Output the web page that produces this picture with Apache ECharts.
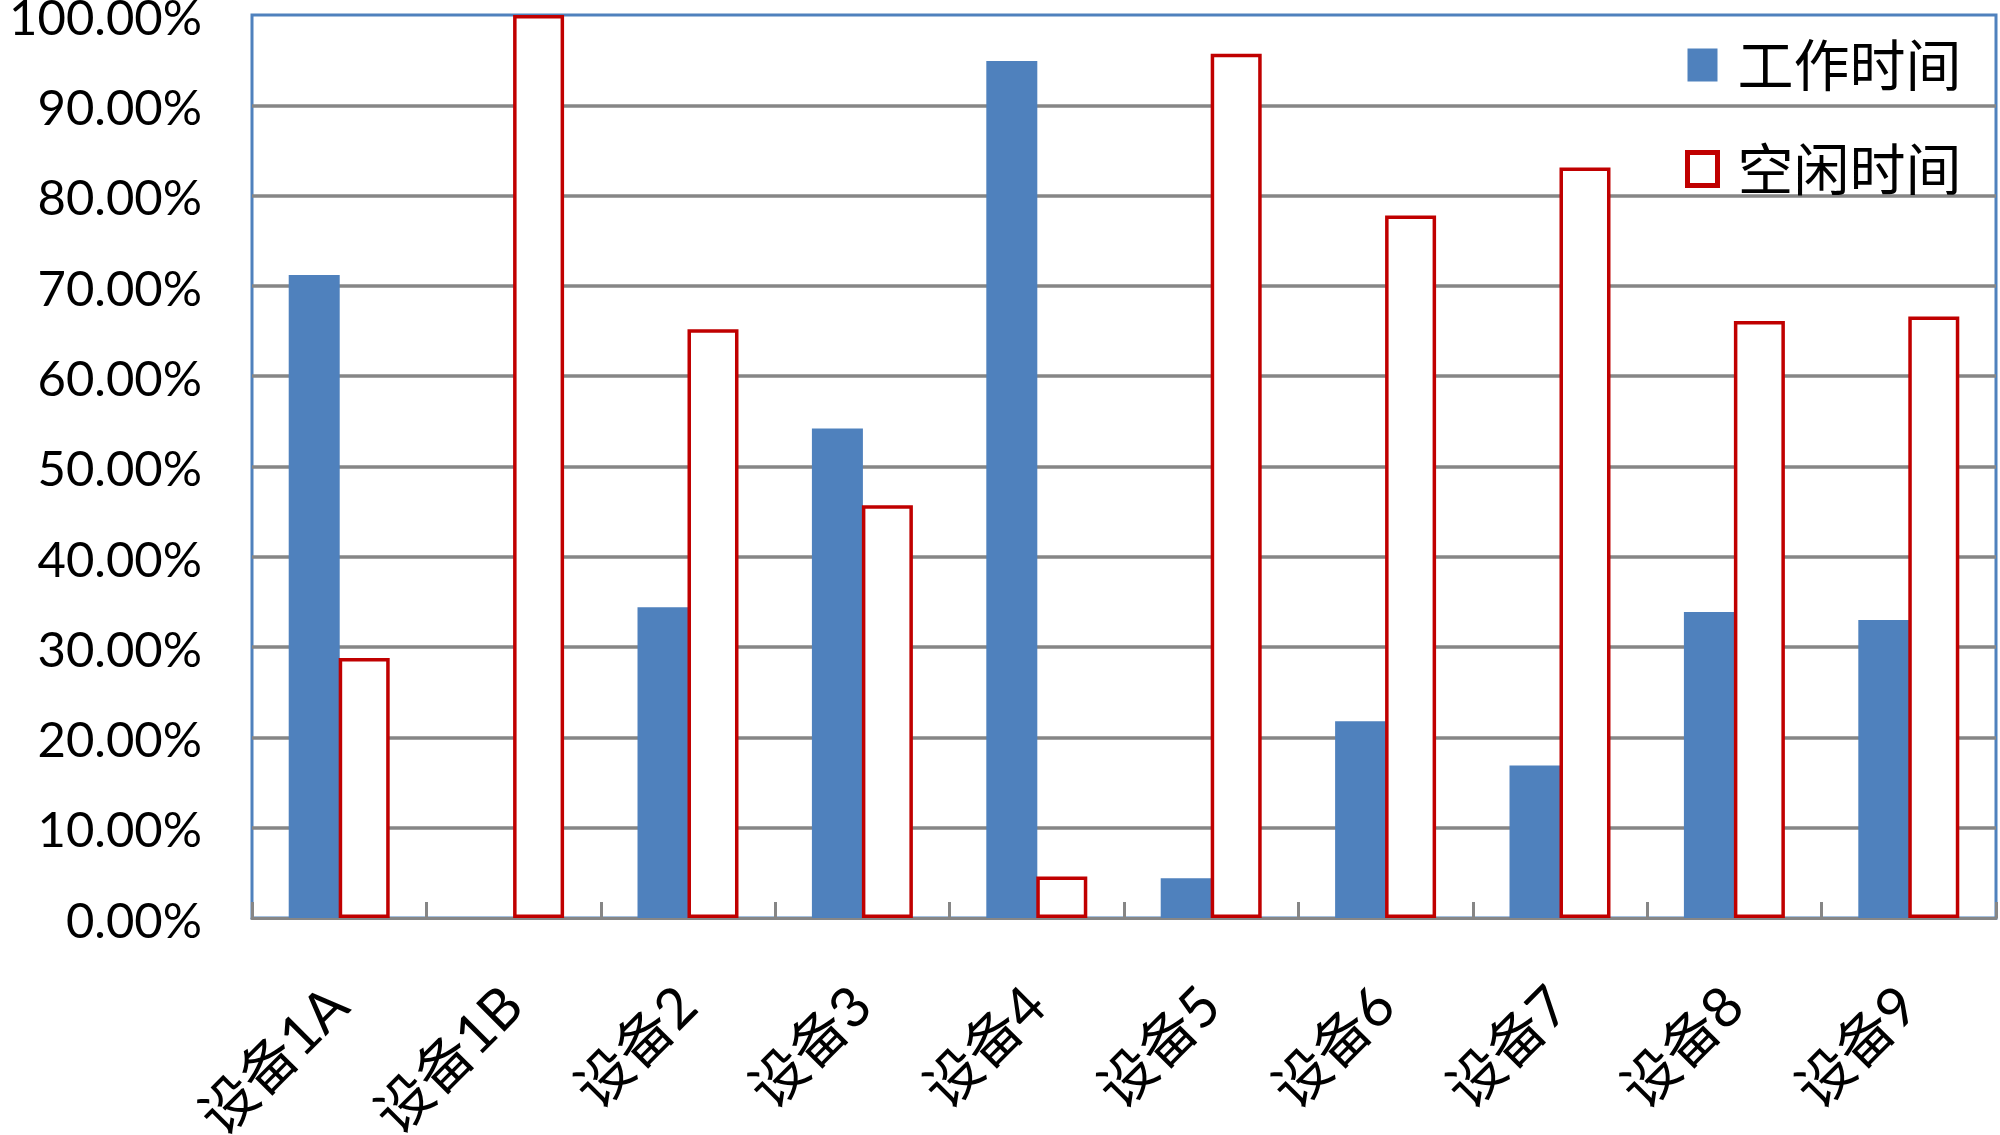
<!DOCTYPE html>
<html>
<head>
<meta charset="utf-8">
<script src="https://cdn.jsdelivr.net/npm/echarts@6/dist/echarts.min.js"></script>
<style>
html,body{margin:0;padding:0;background:#fff;}
#chart{width:2000px;height:1135px;}
</style>
</head>
<body>
<div id="chart"></div>
<script>
const categories = ['设备1A','设备1B','设备2','设备3','设备4','设备5','设备6','设备7','设备8','设备9'];
const workTime = [71.2, 0, 34.4, 54.2, 94.9, 4.4, 21.8, 16.9, 33.9, 33.0];
const idleTime = [28.8, 100, 65.2, 45.7, 4.6, 95.7, 77.8, 83.1, 66.1, 66.6];
const seriesNames = ['工作时间','空闲时间'];

const BLUE = '#4F81BD', RED = '#C00000', GRAY = '#868686';
const chart = echarts.init(document.getElementById('chart'), null, {renderer:'canvas'});
chart.setOption({
  animation: false,
  backgroundColor: '#fff',
  grid: {left: 252, top: 15, right: 4, bottom: 217, show: true, borderColor: BLUE, borderWidth: 3, backgroundColor: '#fff', outerBoundsMode: 'none', containLabel: false},
  legend: {
    orient: 'vertical', left: 1685, top: 37, padding: 0, itemWidth: 30, itemHeight: 33, itemGap: 48,
    icon: 'rect',
    textStyle: {fontSize: 56, fontFamily: "'Noto Sans CJK SC'", color: '#000', padding: [0,0,0,15]},
    data: [
      {name: seriesNames[0], itemStyle: {color: BLUE, borderWidth: 0}},
      {name: seriesNames[1], itemStyle: {color: '#fff', borderColor: RED, borderWidth: 5}}
    ]
  },
  xAxis: {
    type: 'category', data: categories,
    axisLine: {show: true, lineStyle: {color: GRAY, width: 3}},
    axisTick: {show: true, inside: true, length: 16, lineStyle: {color: GRAY, width: 3}},
    axisLabel: {interval: 0, rotate: 45, margin: 79, fontSize: 56, color: '#000', fontFamily: "Lato, 'Noto Sans CJK SC'"},
    splitLine: {show: false}
  },
  yAxis: {
    type: 'value', min: 0, max: 100, interval: 10,
    axisLine: {show: false}, axisTick: {show: false},
    axisLabel: {margin: 50, fontSize: 49, color: '#000', fontFamily: 'Lato', verticalAlign: 'top', lineHeight: 8, formatter: v => v.toFixed(2) + '%'},
    splitLine: {show: true, showMaxLine: false, showMinLine: false, lineStyle: {color: GRAY, width: 3.5}}
  },
  series: [
    {name: seriesNames[0], type: 'bar', data: workTime, barWidth: 51, barGap: '-2%',
     itemStyle: {color: BLUE}},
    {name: seriesNames[1], type: 'bar', data: idleTime, barWidth: 51, barGap: '-2%',
     itemStyle: {color: '#fff', borderColor: RED, borderWidth: 3.5}}
  ]
});
</script>
</body>
</html>
